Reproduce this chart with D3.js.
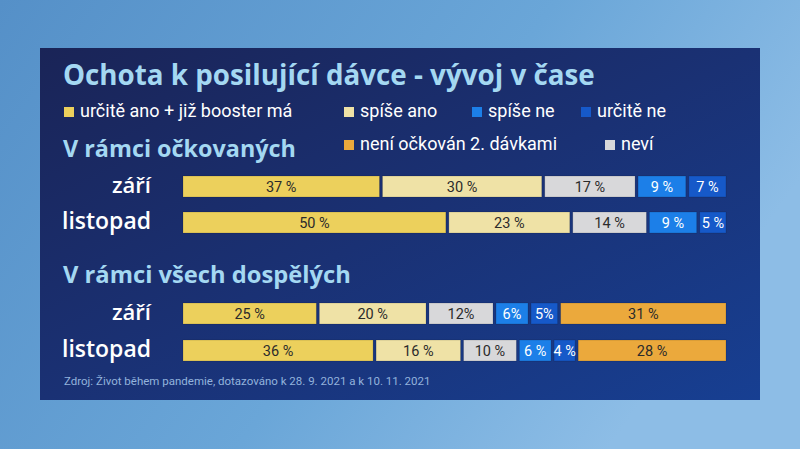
<!DOCTYPE html>
<meta charset="utf-8">
<script src="https://d3js.org/d3.v7.min.js"></script>
<style>
  body { margin: 0; }
  svg { display: block; font-family: Roboto, "Noto Sans", sans-serif; }
</style>
<body>
<div id="chart"></div>
<script>
// data
var categories = ["určitě ano + již booster má", "spíše ano", "neví", "spíše ne", "určitě ne", "není očkován 2. dávkami"];
var colors = ["#ecd05c", "#efe2a6", "#d8d8da", "#1c7fe8", "#1659c9", "#eba93c"];
var periods = ["září", "listopad"];
var vaccinated = [[37, 30, 17, 9, 7], [50, 23, 14, 9, 5]];
var adults = [[25, 20, 12, 6, 5, 31], [36, 16, 10, 6, 4, 28]];
var adultsLabels = [["25 %", "20 %", "12%", "6%", "5%", "31 %"], ["36 %", "16 %", "10 %", "6 %", "4 %", "28 %"]];
var legendRows = [[0, 1, 3, 4], [5, 2]];

var width = 800, height = 449;
var svg = d3.select("#chart").append("svg")
    .attr("width", width)
    .attr("height", height);

// scale font size so the text takes the width it has in the original
function fit(sel, target) {
  var w = sel.node().getComputedTextLength();
  var fs = parseFloat(sel.style("font-size"));
  sel.style("font-size", (fs * target / w) + "px");
}

var defs = svg.append("defs");
var bg = defs.append("linearGradient").attr("id", "bg")
    .attr("x1", "0").attr("y1", "0").attr("x2", "1").attr("y2", "0.4");
bg.append("stop").attr("offset", "0").attr("stop-color", "#5590c8");
bg.append("stop").attr("offset", "0.6").attr("stop-color", "#6aa6d8");
bg.append("stop").attr("offset", "1").attr("stop-color", "#8dbde6");
var panel = defs.append("linearGradient").attr("id", "panel")
    .attr("x1", "0").attr("y1", "0").attr("x2", "1").attr("y2", "1");
panel.append("stop").attr("offset", "0").attr("stop-color", "#1a2457");
panel.append("stop").attr("offset", "0.5").attr("stop-color", "#1a3174");
panel.append("stop").attr("offset", "1").attr("stop-color", "#173f92");

svg.append("rect").attr("width", width).attr("height", height).attr("fill", "url(#bg)");
svg.append("rect").attr("x", 40).attr("y", 48).attr("width", 720).attr("height", 352)
    .attr("fill", "url(#panel)");

// title
var title = svg.append("text")
    .attr("x", 63).attr("y", 85)
    .attr("fill", "#a4d8f2")
    .style("font-family", "'Open Sans', Roboto, sans-serif")
    .style("font-size", "24px").style("font-weight", "bold")
    .text("Ochota k posilující dávce - vývoj v čase");
fit(title, 532);

// legend
var legendPos = [[64, 344, 472, 581], [344, 605]];
var legendY = [117, 150];
legendRows.forEach(function(row, r) {
  var g = svg.append("g").selectAll("g").data(row).join("g")
      .attr("transform", function(d, i) { return "translate(" + legendPos[r][i] + "," + legendY[r] + ")"; });
  g.append("rect").attr("x", 0).attr("y", -10).attr("width", 10).attr("height", 10)
      .attr("fill", function(d) { return colors[d]; });
  g.append("text").attr("x", 16).attr("y", 0)
      .attr("fill", "#ffffff")
      .style("font-size", "18px")
      .text(function(d) { return categories[d]; });
});

// sections
var barX0 = 183, barX1 = 726, gap = 3, barH = 21;
var periodWidths = [39, 89];

function section(name, nameWidth, titleY, data, labels, rowY) {
  var t = svg.append("text")
      .attr("x", 63).attr("y", titleY)
      .attr("fill", "#a4d8f2")
      .style("font-family", "'Open Sans', Roboto, sans-serif")
      .style("font-size", "21px").style("font-weight", "bold")
      .text(name);
  fit(t, nameWidth);

  data.forEach(function(vals, r) {
    var y = rowY[r];
    var p = svg.append("text")
        .attr("x", 151).attr("y", y + 17)
        .attr("text-anchor", "end")
        .attr("fill", "#ffffff")
        .style("font-family", "'Open Sans', Roboto, sans-serif")
        .style("font-size", "22px").style("font-weight", 600)
        .text(periods[r]);
    fit(p, periodWidths[r]);

    var total = d3.sum(vals);
    var x = d3.scaleLinear()
        .domain([0, total])
        .range([0, barX1 - barX0 - gap * (vals.length - 1)]);
    var cum = d3.cumsum(vals);
    var segs = vals.map(function(v, i) {
      return { v: v, i: i, x0: x(cum[i] - v) + gap * i, w: x(v), label: labels ? labels[r][i] : v + " %" };
    });

    var g = svg.append("g").attr("transform", "translate(" + barX0 + "," + y + ")");
    g.selectAll("rect").data(segs).join("rect")
        .attr("x", function(d) { return d.x0; })
        .attr("y", 0)
        .attr("width", function(d) { return d.w; })
        .attr("height", barH)
        .attr("fill", function(d) { return colors[d.i]; })
        .attr("stroke", "rgba(0,0,0,0.18)")
        .attr("stroke-width", 0.8);
    g.selectAll("text").data(segs).join("text")
        .attr("x", function(d) { return d.x0 + d.w / 2; })
        .attr("y", barH / 2 + 5)
        .attr("text-anchor", "middle")
        .attr("fill", function(d) { return d.i === 3 || d.i === 4 ? "#ffffff" : "#2b2b2b"; })
        .style("font-size", "14.5px")
        .text(function(d) { return d.label; });
  });
}

section("V rámci očkovaných", 233, 157, vaccinated, null, [176, 212]);
section("V rámci všech dospělých", 288, 283, adults, adultsLabels, [303, 340]);

// source
svg.append("text")
    .attr("x", 64).attr("y", 385)
    .attr("fill", "#93b3dc")
    .style("font-size", "11.5px")
    .text("Zdroj: Život během pandemie, dotazováno k 28. 9. 2021 a k 10. 11. 2021");
</script>
</body>
</html>
